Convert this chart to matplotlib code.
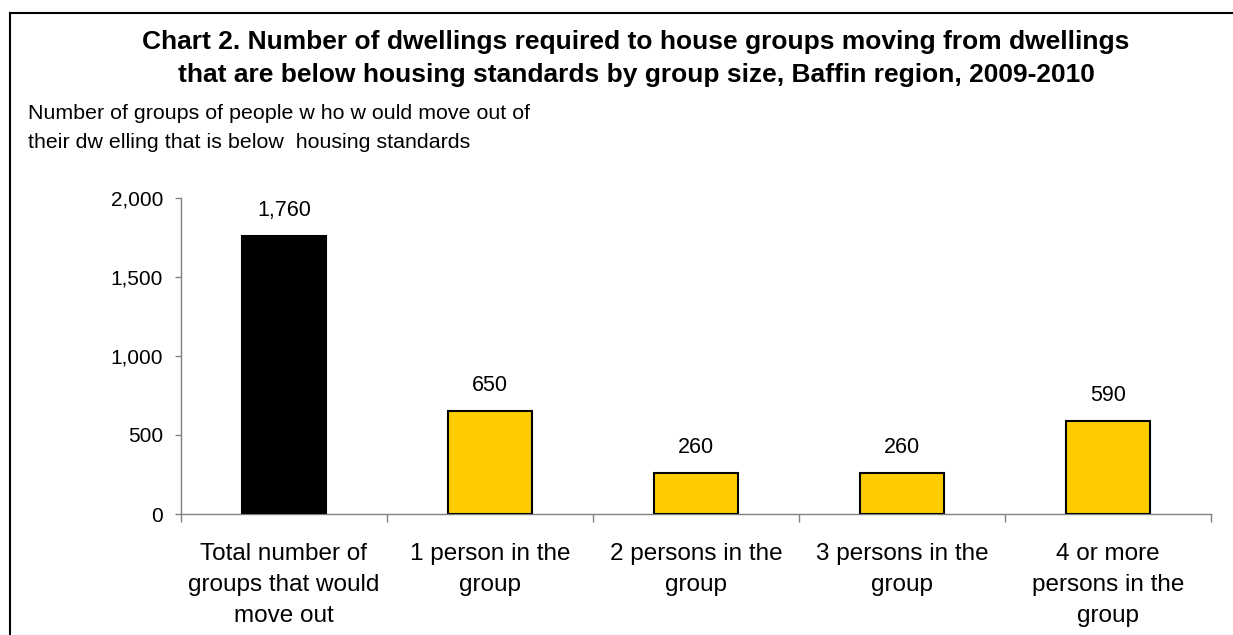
import matplotlib.pyplot as plt
from matplotlib.lines import Line2D
from matplotlib.ticker import FuncFormatter

plt.rcParams['font.family'] = ['Liberation Sans', 'DejaVu Sans']

# Dwellings needed, by group size
categories = ['Total number of\ngroups that would\nmove out',
              '1 person in the\ngroup',
              '2 persons in the\ngroup',
              '3 persons in the\ngroup',
              '4 or more\npersons in the\ngroup']
values = [1760, 650, 260, 260, 590]
bar_colors = ['#000000', '#FFCC00', '#FFCC00', '#FFCC00', '#FFCC00']
y_ticks = [0, 500, 1000, 1500, 2000]

title_lines = ['Chart 2. Number of dwellings required to house groups moving from dwellings',
               'that are below housing standards by group size, Baffin region, 2009-2010']
ylabel_lines = ['Number of groups of people w ho w ould move out of',
                'their dw elling that is below  housing standards']

W, H = 1233, 635
fig = plt.figure(figsize=(W / 100, H / 100), dpi=100)
ax = fig.add_axes([181 / W, 1 - 514 / H, 1030 / W, 316 / H])

x = list(range(len(values)))
ax.bar(x, values, width=0.41, color=bar_colors, edgecolor='black', linewidth=1.5, zorder=3)

for xi, v in zip(x, values):
    ax.annotate(f'{v:,}', (xi, v), xytext=(0, 14.5), textcoords='offset points',
                ha='center', va='baseline', fontsize=15.5)

ax.set_xlim(-0.5, len(values) - 0.5)
ax.set_ylim(0, 2000)
ax.set_yticks(y_ticks)
ax.yaxis.set_major_formatter(FuncFormatter(lambda v, p: f'{int(v):,}'))

# category labels centred under bars, ticks on the boundaries
ax.set_xticks([i - 0.5 for i in range(len(values) + 1)])
ax.set_xticklabels([])
ax.set_xticks(x, minor=True)
ax.set_xticklabels(categories, minor=True, fontsize=17.5, linespacing=1.52)
ax.tick_params(axis='x', which='minor', length=0, pad=21)
ax.tick_params(axis='x', which='major', length=6, width=1, color='#808080')
ax.tick_params(axis='y', length=4, width=1, color='#808080', labelsize=15, pad=9)

for side in ['top', 'right']:
    ax.spines[side].set_visible(False)
for side in ['left', 'bottom']:
    ax.spines[side].set_color('#808080')
    ax.spines[side].set_linewidth(1)

# title and axis caption
fig.text(636 / W, 1 - 49 / H, title_lines[0], ha='center', va='baseline',
         fontsize=19, fontweight='bold')
fig.text(636 / W, 1 - 82 / H, title_lines[1], ha='center', va='baseline',
         fontsize=19, fontweight='bold')
fig.text(28 / W, 1 - 119 / H, ylabel_lines[0], ha='left', va='baseline', fontsize=15.4)
fig.text(28 / W, 1 - 148 / H, ylabel_lines[1], ha='left', va='baseline', fontsize=15.4)

# frame lines on the left and top
fig.add_artist(Line2D([9.5 / W, 9.5 / W], [0, 1 - 12.5 / H], transform=fig.transFigure,
                      color='black', linewidth=1.5))
fig.add_artist(Line2D([9.5 / W, 1], [1 - 12.5 / H, 1 - 12.5 / H], transform=fig.transFigure,
                      color='black', linewidth=1.5))

fig.savefig('out.png', dpi=100)
